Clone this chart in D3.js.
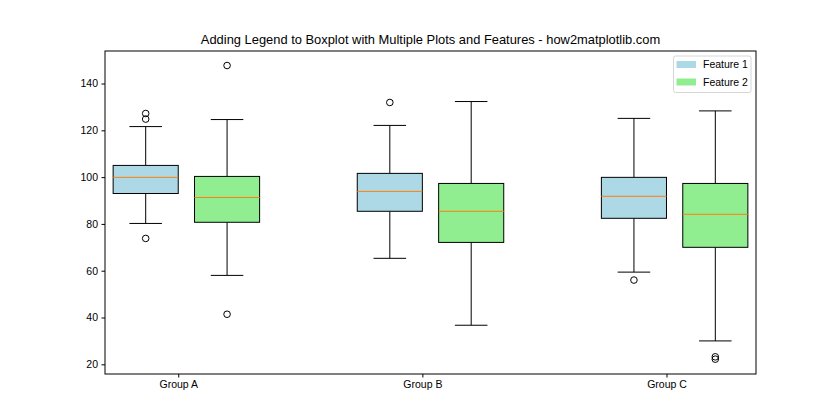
<!DOCTYPE html>
<html>
<head>
<meta charset="utf-8">
<script src="https://cdn.jsdelivr.net/npm/d3@7/dist/d3.min.js"></script>
<style>
  body { margin: 0; background: #fff; }
  svg { display: block; }
  text { font-family: "Liberation Sans", Arial, sans-serif; fill: #000; }
</style>
</head>
<body>
<svg id="chart" width="840" height="420"></svg>
<script>
// ---- data ----
const groups = ["Group A", "Group B", "Group C"];
const groupPositions = [1, 4, 7];
const features = ["Feature 1", "Feature 2"];
const featureColors = ["#add8e6", "#90ee90"];
const featureOffsets = [-0.4, 0.6];
// stats per group: [lowWhisker, q1, median, q3, highWhisker]
const feature1Stats = [
  [80.2, 93.0, 99.9, 105.0, 121.6],
  [65.3, 85.4, 93.9, 101.6, 122.1],
  [59.4, 82.4, 91.8, 99.9, 125.1]
];
const feature2Stats = [
  [58.0, 80.7, 91.3, 100.3, 124.6],
  [36.7, 72.1, 85.4, 97.3, 132.3],
  [30.0, 70.0, 84.1, 97.3, 128.3]
];
const feature1Outliers = [[127.2, 124.8, 73.8], [131.9], [56.0]];
const feature2Outliers = [[147.7, 41.4], [], [23.2, 22.2]];
const yTicks = [20, 40, 60, 80, 100, 120, 140];
const titleText = "Adding Legend to Boxplot with Multiple Plots and Features - how2matplotlib.com";

// ---- layout ----
const svg = d3.select("#chart");
const L = 105, R = 756, T = 51, B = 374;
const x = d3.scaleLinear().domain([0.1, 8.1]).range([L, R]);
const y = d3.scaleLinear().domain([15.86, 153.9]).range([B, T]);
const boxW = 0.8;

const statsAll = [feature1Stats, feature2Stats];
const outAll = [feature1Outliers, feature2Outliers];

const plot = svg.append("g");

statsAll.forEach((stats, fi) => {
  stats.forEach((s, gi) => {
    const c = groupPositions[gi] + featureOffsets[fi];
    const x0 = x(c - boxW / 2), x1 = x(c + boxW / 2), xc = x(c);
    const cw = (x1 - x0) / 4;
    const g = plot.append("g");
    g.append("line").attr("x1", xc).attr("x2", xc).attr("y1", y(s[0])).attr("y2", y(s[1])).attr("stroke", "#000").attr("stroke-width", 1);
    g.append("line").attr("x1", xc).attr("x2", xc).attr("y1", y(s[3])).attr("y2", y(s[4])).attr("stroke", "#000").attr("stroke-width", 1);
    [s[0], s[4]].forEach(v => {
      g.append("line").attr("x1", xc - cw).attr("x2", xc + cw).attr("y1", y(v)).attr("y2", y(v)).attr("stroke", "#000").attr("stroke-width", 1);
    });
    g.append("rect").attr("x", x0).attr("y", y(s[3])).attr("width", x1 - x0).attr("height", y(s[1]) - y(s[3]))
      .attr("fill", featureColors[fi]).attr("stroke", "#000").attr("stroke-width", 1);
    g.append("line").attr("x1", x0).attr("x2", x1).attr("y1", y(s[2])).attr("y2", y(s[2])).attr("stroke", "#ff7f0e").attr("stroke-width", 1);
    outAll[fi][gi].forEach(v => {
      g.append("circle").attr("cx", xc).attr("cy", y(v)).attr("r", 3.3).attr("fill", "none").attr("stroke", "#000").attr("stroke-width", 1);
    });
  });
});

// axes
const yAxis = d3.axisLeft(y).tickValues(yTicks).tickSize(3.5).tickPadding(3.5);
const yg = svg.append("g").attr("transform", `translate(${L},0)`).call(yAxis);
yg.select(".domain").remove();
yg.selectAll("text").style("font-size", "10.5px").style("font-family", "Liberation Sans, Arial, sans-serif");
yg.selectAll("line").attr("stroke", "#000");

const xAxis = d3.axisBottom(x).tickValues(groupPositions).tickFormat((d, i) => groups[i]).tickSize(3.5).tickPadding(3.5);
const xg = svg.append("g").attr("transform", `translate(0,${B})`).call(xAxis);
xg.select(".domain").remove();
xg.selectAll("text").style("font-size", "10.5px").style("font-family", "Liberation Sans, Arial, sans-serif");
xg.selectAll("line").attr("stroke", "#000");

// frame
svg.append("rect").attr("x", L).attr("y", T).attr("width", R - L).attr("height", B - T)
  .attr("fill", "none").attr("stroke", "#000").attr("stroke-width", 1);

// title
svg.append("text").attr("x", (L + R) / 2).attr("y", T - 7).attr("text-anchor", "middle")
  .style("font-size", "12.9px").text(titleText);

// legend
const lg = svg.append("g");
lg.append("rect").attr("x", 673.5).attr("y", 56).attr("width", 77.5).attr("height", 36.5).attr("rx", 2)
  .attr("fill", "#fff").attr("fill-opacity", 0.8).attr("stroke", "#d6d6d6").attr("stroke-width", 1);
features.forEach((f, i) => {
  lg.append("rect").attr("x", 676.5).attr("y", 61 + i * 17.5).attr("width", 19.5).attr("height", 7).attr("fill", featureColors[i]);
  lg.append("text").attr("x", 703).attr("y", 68 + i * 17.5).style("font-size", "10.5px").text(f);
});
</script>
</body>
</html>
